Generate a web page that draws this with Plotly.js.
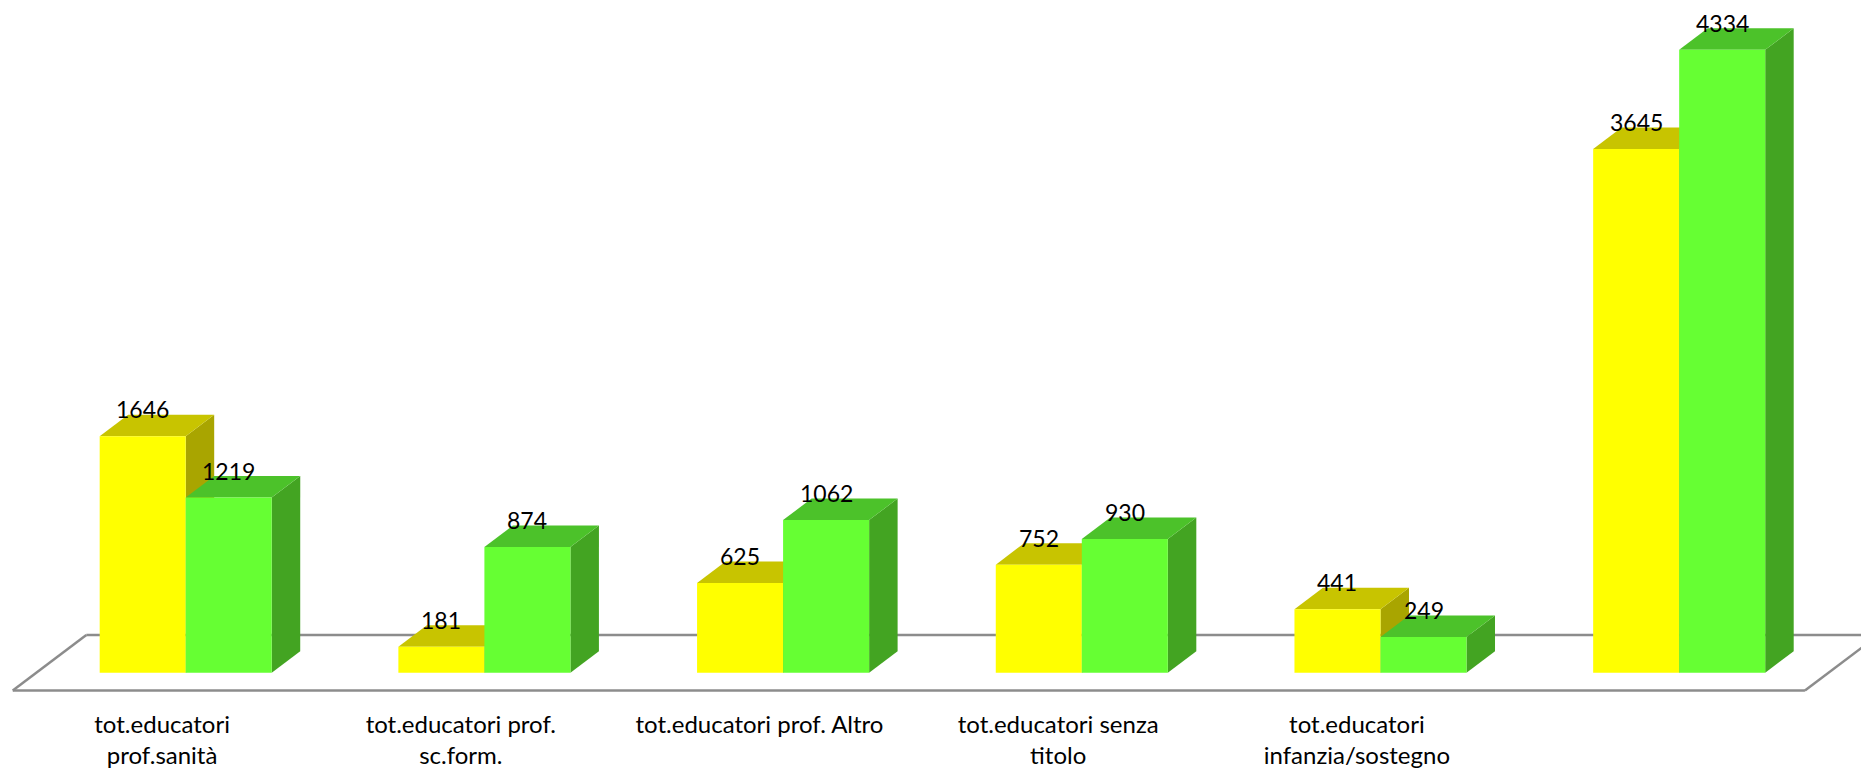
<!DOCTYPE html>
<html>
<head>
<meta charset="utf-8">
<script src="https://cdn.plot.ly/plotly-3.0.1.min.js"></script>
<style>html,body{margin:0;padding:0;background:#fff;}#chart{width:1861px;height:770px;}</style>
</head>
<body>
<div id="chart"></div>
<script>
// ---- data ----
const categories = ['tot.educatori<br>prof.sanità', 'tot.educatori prof.<br>sc.form.', 'tot.educatori prof. Altro', 'tot.educatori senza<br>titolo', 'tot.educatori<br>infanzia/sostegno', ''];
const seriesA = [1646, 181, 625, 752, 441, 3645];
const seriesB = [1219, 874, 1062, 930, 249, 4334];

// ---- style ----
const colA = {front: '#FFFF00', top: '#C8C400', side: '#A9A500'};
const colB = {front: '#66FF33', top: '#4CC22A', side: '#43A422'};
const BW = 0.288;          // bar width (category units)
const DX = 0.0954;         // depth offset, x (category units)
const DY = 149.6;          // depth offset, y (value units)
const xs = categories.map((_, i) => i);

const shapes = [];
// floor outline
const fF = -0.828, fB = 1.753, fx0 = -0.5, fx1 = 5.5;
const floorLine = {color: '#8C8C8C', width: 2.5};
const pc = (x, d) => [x + d * DX, d * DY];
[[pc(fx0, fF), pc(fx1, fF)], [pc(fx0, fF), pc(fx0, fB)], [pc(fx0, fB), pc(fx1 + 0.3, fB)], [pc(fx1, fF), pc(fx1, fB)]].forEach(([a, b]) => {
  shapes.push({type: 'line', xref: 'x', yref: 'y', x0: a[0], y0: a[1], x1: b[0], y1: b[1], line: floorLine, layer: 'below'});
});

function faces(vals, off, col) {
  vals.forEach((h, i) => {
    const x0 = i + off, x1 = i + off + BW;
    shapes.push({type: 'path', xref: 'x', yref: 'y', layer: 'below', line: {width: 0}, fillcolor: col.side,
      path: `M${x1},0 L${x1 + DX},${DY} L${x1 + DX},${h + DY} L${x1},${h} Z`});
    shapes.push({type: 'path', xref: 'x', yref: 'y', layer: 'below', line: {width: 0}, fillcolor: col.top,
      path: `M${x0},${h} L${x1},${h} L${x1 + DX},${h + DY} L${x0 + DX},${h + DY} Z`});
  });
}
faces(seriesA, -BW, colA);
faces(seriesB, 0, colB);

const labelFont = {family: 'Lato, "Open Sans", sans-serif', size: 23, color: '#000'};
const annotations = [];
seriesA.forEach((v, i) => annotations.push({x: i - BW / 2, y: v, xref: 'x', yref: 'y', text: String(v), showarrow: false, yanchor: 'middle', yshift: 27, font: labelFont}));
seriesB.forEach((v, i) => annotations.push({x: i + BW / 2, y: v, xref: 'x', yref: 'y', text: String(v), showarrow: false, yanchor: 'middle', yshift: 27, font: labelFont}));

const traces = [
  {type: 'bar', x: xs, y: seriesA, width: BW, offset: -BW, marker: {color: colA.front, line: {width: 0}}, hoverinfo: 'skip'},
  {type: 'bar', x: xs, y: seriesB, width: BW, offset: 0, marker: {color: colB.front, line: {width: 0}}, hoverinfo: 'skip'}
];

const layout = {
  width: 1861, height: 770,
  margin: {l: 0, r: 0, t: 0, b: 70, pad: 0},
  paper_bgcolor: '#fff', plot_bgcolor: '#fff',
  showlegend: false, barmode: 'overlay',
  xaxis: {range: [-0.6217, 5.6087], tickvals: xs.map(i => i + fF * DX), ticktext: categories, showgrid: false, zeroline: false, showline: false, ticks: '', automargin: false,
    ticklabelstandoff: 8,
    tickfont: {family: 'Lato, "Open Sans", sans-serif', size: 24, color: '#000'}},
  yaxis: {range: [-190, 4681], showgrid: false, zeroline: false, showline: false, showticklabels: false, ticks: '', automargin: false},
  shapes: shapes, annotations: annotations
};
Plotly.newPlot('chart', traces, layout, {staticPlot: true, displayModeBar: false});
</script>
</body>
</html>
